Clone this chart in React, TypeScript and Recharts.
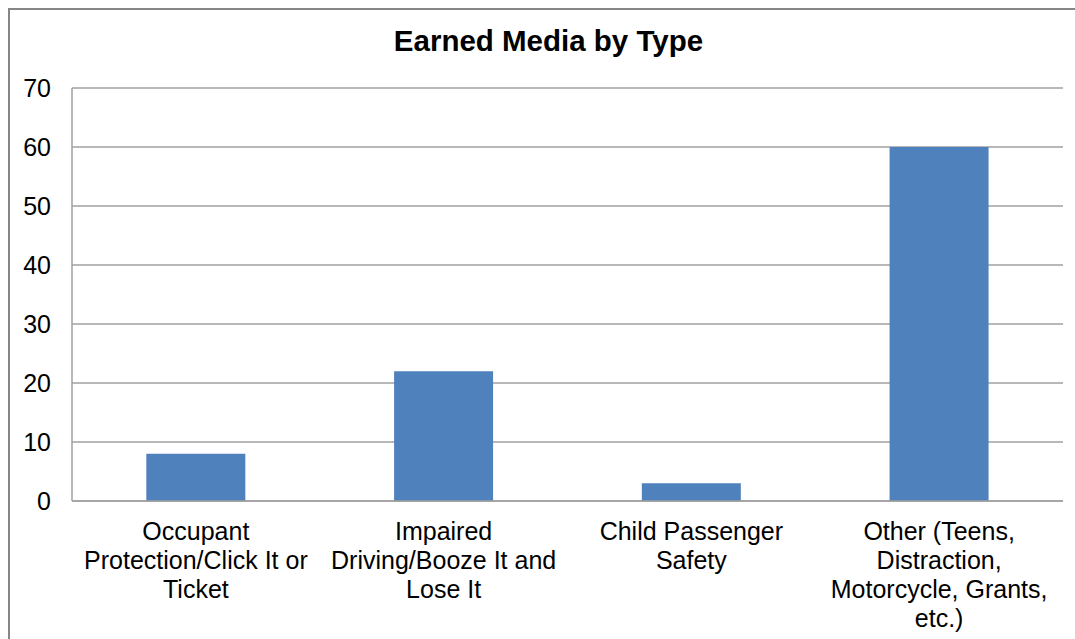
import React from 'react';
import { BarChart, Bar, XAxis, YAxis, CartesianGrid } from 'recharts';

const categories = [
  'Occupant\nProtection/Click It or\nTicket',
  'Impaired\nDriving/Booze It and\nLose It',
  'Child Passenger\nSafety',
  'Other (Teens,\nDistraction,\nMotorcycle, Grants,\netc.)',
];
const values = [8, 22, 3, 60];
const yTicks = [0, 10, 20, 30, 40, 50, 60, 70];

const data = categories.map((name, i) => ({ name, value: values[i] }));

const FONT = '"Liberation Sans", Arial, sans-serif';

const CategoryTick = ({ x, y, payload }: any) => {
  const lines = String(payload.value).split('\n');
  return (
    <text x={x} y={y} textAnchor="middle" fill="#000" fontSize={25} fontFamily={FONT}>
      {lines.map((line, i) => (
        <tspan key={i} x={x} dy={i === 0 ? 31 : 29}>{line}</tspan>
      ))}
    </text>
  );
};

const App: React.FC = () => {
  return (
    <div style={{ position: 'absolute', left: 0, top: 0, width: 1075, height: 639, background: '#fff' }}>
      <div style={{ position: 'absolute', left: 8, top: 8, right: 0, bottom: 0, borderTop: '2px solid #868686', borderLeft: '2px solid #868686' }} />
      <div style={{ position: 'absolute', left: 0, top: 24, width: 1097, textAlign: 'center', fontFamily: FONT, fontWeight: 'bold', fontSize: 29.5, color: '#000' }}>
        Earned Media by Type
      </div>
      <div style={{ position: 'absolute', left: 0, top: 0 }}>
        <BarChart width={1075} height={639} data={data} margin={{ top: 88, right: 12, left: 0, bottom: 0 }} barCategoryGap="30%">
          <CartesianGrid vertical={false} stroke="#a0a0a0" strokeWidth={1.5} />
          <XAxis dataKey="name" height={138} interval={0} tickLine={false} axisLine={{ stroke: '#a0a0a0', strokeWidth: 1.5 }} tick={<CategoryTick />} />
          <YAxis width={72} domain={[0, 70]} ticks={yTicks} interval={0} tickLine={false} axisLine={{ stroke: '#a0a0a0', strokeWidth: 1.5 }} tick={{ fill: '#000', fontSize: 25, fontFamily: FONT }} tickMargin={15} />
          <Bar dataKey="value" fill="#4f81bd" isAnimationActive={false} />
        </BarChart>
      </div>
    </div>
  );
};

export default App;
